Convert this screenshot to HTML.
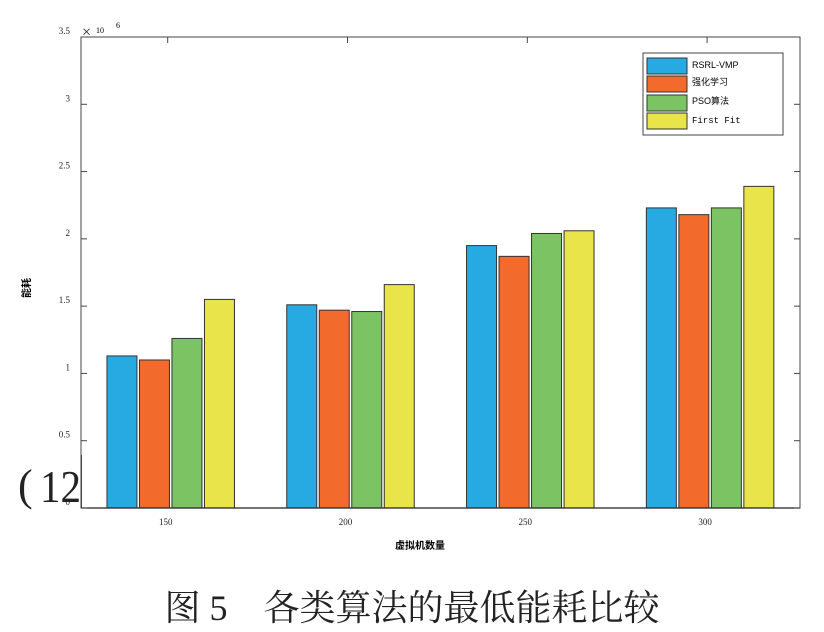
<!DOCTYPE html>
<html><head><meta charset="utf-8"><style>
body{margin:0;background:#fff;}
svg{display:block;font-family:"Liberation Serif","Noto Serif CJK SC",serif;}
</style></head><body>
<svg width="824" height="632" viewBox="0 0 824 632">
<g id="plot"></g>
</svg>
<script>
const categories=["150","200","250","300"];
const seriesNames=["RSRL-VMP","强化学习","PSO算法","First Fit"];
const rsrl=[1.13,1.51,1.95,2.23];
const rl=[1.10,1.47,1.87,2.18];
const pso=[1.26,1.46,2.04,2.23];
const ff=[1.55,1.66,2.06,2.39];
const yTicks=["0","0.5","1","1.5","2","2.5","3","3.5"];
const yTickVals=[0,0.5,1,1.5,2,2.5,3,3.5];
const colors=["#27a9e1","#f26a2c","#7cc363","#e8e44a"];
const ns="http://www.w3.org/2000/svg";
const g=document.getElementById('plot');
const L=81,R=800,Y0=508,Y1=37;
const y=v=>Y0-(v/3.5)*(Y0-Y1);
const xc=i=>170.7+i*179.8;
function mk(t,a,p){const e=document.createElementNS(ns,t);for(const k in a)e.setAttribute(k,a[k]);(p||g).appendChild(e);return e;}
const series=[rsrl,rl,pso,ff];
series.forEach((s,si)=>{s.forEach((v,ci)=>{
 const x=xc(ci)+(si-1.5)*32.5-15;
 const r=mk('rect',{x:x,y:y(v),width:30,height:Y0-y(v),fill:colors[si],stroke:'#333','stroke-width':1});
 
 
});});
const ax=mk('rect',{x:L,y:Y1,width:R-L,height:Y0-Y1,fill:'none',stroke:'#444','stroke-width':1});


mk('line',{x1:L,y1:Y0,x2:R,y2:Y0,stroke:'#222','stroke-width':1.3});
yTickVals.forEach((v,i)=>{
 mk('line',{x1:L,y1:y(v),x2:L+6,y2:y(v),stroke:'#444'});
 mk('line',{x1:R,y1:y(v),x2:R-6,y2:y(v),stroke:'#444'});
 const t=mk('text',{x:70,y:y(v)-3,'font-size':9,'text-anchor':'end',fill:'#222'});t.textContent=yTicks[i];
 
 
});
categories.forEach((c,i)=>{
 mk('line',{x1:xc(i)-3,y1:Y1,x2:xc(i)-3,y2:Y1+6,stroke:'#444'});
 const t=mk('text',{x:xc(i)-5,y:Y0+17,'font-size':9,'text-anchor':'middle',fill:'#222'});t.textContent=c;
 
 
});
</script>
<svg width="824" height="632" style="position:absolute;left:0;top:0;font-family:'Liberation Serif','Noto Serif CJK SC',serif">
<g><text x="82" y="37" font-size="16" fill="#222">×</text><text x="96" y="33" font-size="8">10</text><text x="116" y="28" font-size="8">6</text></g>
<text x="0" y="0" font-size="10" transform="translate(30,288) rotate(-90)" text-anchor="middle" font-family="Noto Sans CJK SC,sans-serif" font-weight="bold">能耗</text>
<text x="420" y="549" font-size="10" text-anchor="middle" font-family="Noto Sans CJK SC,sans-serif" font-weight="bold">虚拟机数量</text>
<rect x="20" y="460" width="60" height="38" fill="#fff"/>
<text x="18" y="500" font-size="44" fill="#222">(</text>
<text x="40" y="502" font-size="46" fill="#222" textLength="41" lengthAdjust="spacingAndGlyphs">12</text>
<rect x="80.5" y="455" width="1.5" height="53" fill="#444"/>
<text x="412" y="620" font-size="36" text-anchor="middle" fill="#222">图 5　各类算法的最低能耗比较</text>
<g font-family="Liberation Sans,Noto Sans CJK SC,sans-serif">
<rect x="643" y="53" width="140" height="82" fill="#fff" stroke="#444"/>
<rect x="647" y="58" width="40" height="16" fill="#27a9e1" stroke="#333"/><text x="692" y="68" font-size="9">RSRL-VMP</text>
<rect x="647" y="76" width="40" height="16" fill="#f26a2c" stroke="#333"/><text x="692" y="85" font-size="9">强化学习</text>
<rect x="647" y="95" width="40" height="16" fill="#7cc363" stroke="#333"/><text x="692" y="104" font-size="9">PSO算法</text>
<rect x="647" y="113" width="40" height="16" fill="#e8e44a" stroke="#333"/><text x="692" y="123" font-size="9" font-family="Liberation Mono,monospace">First Fit</text>
</g>
</svg>
</body></html>
